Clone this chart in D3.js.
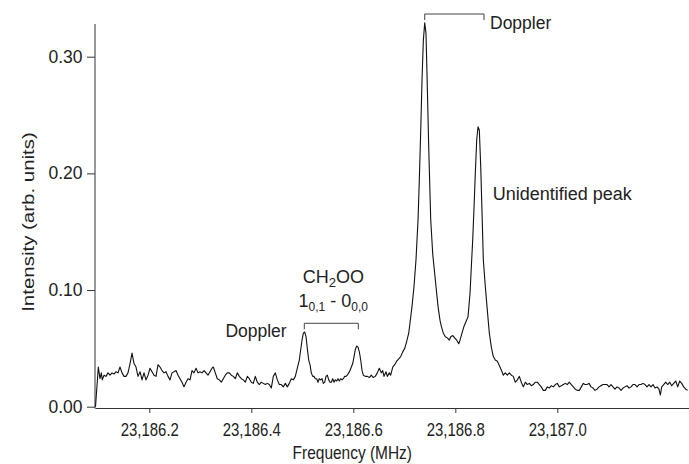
<!DOCTYPE html>
<html>
<head>
<meta charset="utf-8">
<script src="https://cdn.jsdelivr.net/npm/d3@7"></script>
<style>
body { margin: 0; background: #fff; }
svg text { font-family: "Liberation Sans", Arial, Helvetica, sans-serif; fill: #222; }
</style>
</head>
<body>
<div id="chart"></div>
<script>
// spectrum (MHz, arb. units)
var freqMHz = [
	23186.0945,23186.1000,23186.1033,23186.1059,23186.1078,23186.1112,23186.1151,23186.1190,23186.1229,23186.1269,
	23186.1308,23186.1347,23186.1386,23186.1425,23186.1465,23186.1504,23186.1543,23186.1582,23186.1622,23186.1661,
	23186.1700,23186.1739,23186.1778,23186.1818,23186.1857,23186.1896,23186.1935,23186.1975,23186.2014,23186.2053,
	23186.2092,23186.2131,23186.2171,23186.2210,23186.2249,23186.2288,23186.2327,23186.2367,23186.2406,23186.2445,
	23186.2484,23186.2524,23186.2563,23186.2602,23186.2641,23186.2680,23186.2720,23186.2759,23186.2798,23186.2837,
	23186.2876,23186.2916,23186.2955,23186.2994,
	23186.3033,23186.3073,23186.3112,23186.3151,23186.3190,23186.3229,23186.3255,23186.3294,23186.3333,23186.3373,
	23186.3412,23186.3451,23186.3490,23186.3529,23186.3569,23186.3608,23186.3647,23186.3686,23186.3725,23186.3765,
	23186.3804,23186.3843,23186.3882,23186.3922,23186.3961,23186.4000,23186.4039,23186.4078,23186.4118,23186.4157,
	23186.4196,23186.4235,23186.4275,23186.4314,23186.4353,23186.4392,23186.4431,23186.4471,23186.4510,23186.4549,
	23186.4588,23186.4627,23186.4667,23186.4706,23186.4745,23186.4784,23186.4824,23186.4863,23186.4902,23186.4941,
	23186.4969,
	23186.4994,23186.5020,23186.5047,23186.5073,23186.5098,23186.5125,23186.5151,23186.5176,23186.5204,23186.5229,
	23186.5255,23186.5282,23186.5308,23186.5333,23186.5361,23186.5386,23186.5412,23186.5439,23186.5465,23186.5490,
	23186.5518,23186.5543,23186.5569,23186.5596,23186.5622,23186.5647,23186.5675,23186.5700,23186.5725,23186.5753,
	23186.5778,23186.5804,23186.5831,23186.5857,23186.5882,23186.5910,23186.5935,23186.5961,23186.5988,23186.6014,
	23186.6039,23186.6067,23186.6092,23186.6118,23186.6145,23186.6171,23186.6196,23186.6235,23186.6275,23186.6314,
	23186.6353,23186.6392,23186.6431,23186.6471,23186.6510,23186.6549,23186.6576,23186.6602,23186.6641,23186.6667,
	23186.6706,23186.6733,23186.6773,23186.6812,23186.6851,23186.6890,23186.6929,23186.6969,23186.7008,23186.7047,
	23186.7086,
	23186.7112,23186.7151,23186.7190,23186.7229,23186.7269,23186.7294,23186.7322,23186.7347,23186.7373,23186.7400,
	23186.7425,23186.7451,23186.7478,23186.7518,23186.7557,23186.7596,23186.7635,23186.7661,23186.7700,23186.7725,
	23186.7765,23186.7804,23186.7843,23186.7882,23186.7910,23186.7949,23186.7988,23186.8027,23186.8067,23186.8092,
	23186.8131,23186.8171,23186.8210,23186.8249,23186.8288,23186.8314,23186.8341,23186.8367,23186.8392,23186.8420,
	23186.8445,23186.8471,23186.8498,23186.8524,23186.8549,23186.8588,23186.8627,23186.8667,23186.8706,23186.8745,
	23186.8784,23186.8824,
	23186.8876,23186.8916,23186.8941,23186.8980,23186.9020,23186.9059,23186.9098,23186.9137,23186.9176,23186.9216,
	23186.9255,23186.9294,23186.9333,23186.9373,23186.9412,23186.9451,23186.9490,23186.9529,23186.9569,23186.9608,
	23186.9647,23186.9686,23186.9725,23186.9765,23186.9804,23186.9843,23186.9882,23186.9922,23186.9961,23187.0000,
	23187.0039,23187.0078,23187.0118,23187.0157,23187.0196,23187.0235,23187.0275,23187.0314,23187.0353,23187.0392,
	23187.0431,23187.0471,23187.0510,
	23187.0543,23187.0582,23187.0622,23187.0661,23187.0700,23187.0739,23187.0778,23187.0818,23187.0857,23187.0896,
	23187.0935,23187.0975,23187.1014,23187.1053,23187.1092,23187.1131,23187.1171,23187.1210,23187.1249,23187.1288,
	23187.1327,23187.1367,23187.1406,23187.1445,23187.1484,23187.1524,23187.1563,23187.1602,23187.1641,23187.1680,
	23187.1720,23187.1759,23187.1798,23187.1837,23187.1876,23187.1916,23187.1955,23187.1994,23187.2020,23187.2047,
	23187.2086,23187.2125,23187.2165,23187.2204,23187.2243,23187.2282,23187.2322,23187.2361,23187.2400,23187.2439,
	23187.2478,23187.2518,23187.2557
];

var intensity = [
	0.000,0.034,0.024,0.029,0.023,0.027,0.026,0.029,0.027,0.029,
	0.028,0.030,0.029,0.034,0.029,0.026,0.026,0.029,0.037,0.046,
	0.037,0.034,0.026,0.030,0.023,0.029,0.023,0.027,0.033,0.030,
	0.027,0.026,0.036,0.034,0.031,0.029,0.030,0.026,0.023,0.029,
	0.030,0.031,0.027,0.024,0.021,0.017,0.021,0.024,0.023,0.031,
	0.029,0.033,0.029,0.030,
	0.029,0.031,0.029,0.027,0.030,0.033,0.034,0.029,0.024,0.023,
	0.021,0.024,0.027,0.029,0.029,0.027,0.026,0.024,0.029,0.026,
	0.024,0.023,0.021,0.026,0.024,0.021,0.020,0.026,0.021,0.019,
	0.021,0.020,0.019,0.020,0.019,0.016,0.026,0.029,0.023,0.019,
	0.019,0.017,0.020,0.017,0.020,0.024,0.023,0.026,0.033,0.040,
	0.049,
	0.057,0.063,0.064,0.060,0.050,0.040,0.036,0.029,0.026,0.026,
	0.024,0.024,0.021,0.024,0.023,0.024,0.020,0.021,0.026,0.027,
	0.023,0.021,0.021,0.024,0.021,0.023,0.022,0.024,0.022,0.024,
	0.023,0.024,0.026,0.026,0.027,0.029,0.031,0.034,0.037,0.043,
	0.049,0.052,0.051,0.047,0.040,0.031,0.027,0.026,0.026,0.025,
	0.027,0.025,0.026,0.029,0.033,0.029,0.031,0.026,0.030,0.026,
	0.029,0.027,0.034,0.036,0.039,0.041,0.043,0.047,0.050,0.056,
	0.063,
	0.072,0.086,0.103,0.126,0.160,0.194,0.237,0.280,0.314,0.329,
	0.320,0.274,0.223,0.160,0.131,0.114,0.097,0.086,0.074,0.069,
	0.063,0.060,0.059,0.057,0.060,0.061,0.059,0.057,0.054,0.057,
	0.063,0.069,0.073,0.077,0.097,0.120,0.143,0.171,0.200,0.229,
	0.240,0.237,0.206,0.166,0.126,0.103,0.083,0.063,0.051,0.043,
	0.040,0.039,
	0.034,0.030,0.027,0.029,0.027,0.029,0.027,0.026,0.021,0.023,
	0.026,0.021,0.017,0.021,0.019,0.020,0.018,0.019,0.021,0.021,
	0.019,0.017,0.014,0.014,0.017,0.016,0.018,0.017,0.019,0.020,
	0.017,0.018,0.019,0.020,0.019,0.021,0.019,0.017,0.015,0.014,
	0.014,0.017,0.020,
	0.019,0.019,0.020,0.017,0.016,0.014,0.015,0.017,0.018,0.019,
	0.019,0.019,0.017,0.019,0.017,0.015,0.017,0.016,0.014,0.016,
	0.017,0.018,0.016,0.017,0.019,0.019,0.017,0.019,0.019,0.020,
	0.019,0.017,0.019,0.017,0.019,0.016,0.017,0.015,0.010,0.017,
	0.019,0.021,0.019,0.021,0.018,0.020,0.022,0.017,0.022,0.020,
	0.017,0.015,0.014
];

var yTicks = [0, 0.1, 0.2, 0.3];
var xTicks = [23186.2, 23186.4, 23186.6, 23186.8, 23187.0];

// doppler brackets: [from MHz, to MHz, height]
var brackets = [
	[23186.7400, 23186.8563, 0.3366],
	[23186.5039, 23186.6098, 0.0715]
];

var width = 689, height = 464;

var x = d3.scaleLinear().domain([23186.0935, 23187.2582]).range([95, 689]);
var y = d3.scaleLinear().domain([0, 0.3]).range([406.7, 56.7]);

var svg = d3.select("#chart").append("svg").attr("width", width).attr("height", height);

// y axis
var yAxis = d3.axisLeft(y).tickValues(yTicks).tickFormat(d3.format(".2f")).tickSize(8).tickPadding(4.5).tickSizeOuter(0);
var gy = svg.append("g").attr("transform", "translate(95,0)").call(yAxis);
gy.select(".domain").remove();
gy.selectAll(".tick line").attr("stroke", "#333");
gy.selectAll(".tick text").attr("font-size", "17.5px").attr("fill", "#222");
svg.append("line").attr("x1", 95).attr("x2", 95).attr("y1", 24).attr("y2", 408.5)
	.attr("stroke", "#333").attr("stroke-width", 1);

// x axis
var xAxis = d3.axisBottom(x).tickValues(xTicks).tickFormat(d3.format(",.1f")).tickSize(5).tickPadding(10.5).tickSizeOuter(0);
var gx = svg.append("g").attr("transform", "translate(0,408)").call(xAxis);
gx.select(".domain").attr("stroke", "#333");
gx.selectAll(".tick line").attr("stroke", "#333");
gx.selectAll(".tick text").attr("font-size", "18px").attr("fill", "#222").attr("transform", "scale(0.83,1)");

// spectrum
var line = d3.line()
	.x(function(d){ return x(d[0]); })
	.y(function(d){ return y(d[1]); });

svg.append("path")
	.datum(d3.zip(freqMHz, intensity))
	.attr("d", line)
	.attr("fill", "none")
	.attr("stroke", "#111")
	.attr("stroke-width", 1.1)
	.attr("stroke-linejoin", "round");

// brackets
brackets.forEach(function(b){
	var x1 = x(b[0]), x2 = x(b[1]), yy = y(b[2]);
	svg.append("path")
		.attr("d", "M" + x1 + "," + (yy + 6) + "V" + yy + "H" + x2 + "V" + (yy + 6))
		.attr("fill", "none").attr("stroke", "#444").attr("stroke-width", 1);
});

// axis titles
svg.append("text")
	.attr("transform", "translate(352.3,459) scale(0.86,1)")
	.attr("text-anchor", "middle").attr("font-size", "18px")
	.text("Frequency (MHz)");

svg.append("text")
	.attr("transform", "translate(33.5,222) rotate(-90) scale(1.28,1)")
	.attr("text-anchor", "middle").attr("font-size", "16px")
	.text("Intensity (arb. units)");

// annotations
svg.append("text").attr("x", 490).attr("y", 28.5).attr("font-size", "17.5px").text("Doppler");
svg.append("text").attr("x", 492.7).attr("y", 200).attr("font-size", "18px").text("Unidentified peak");
svg.append("text").attr("x", 286.7).attr("y", 337.3).attr("text-anchor", "end").attr("font-size", "17.5px").text("Doppler");

var t1 = svg.append("text").attr("x", 333.3).attr("y", 283.3).attr("text-anchor", "middle").attr("font-size", "18px");
t1.append("tspan").text("CH");
t1.append("tspan").attr("dy", 4).attr("font-size", "13px").text("2");
t1.append("tspan").attr("dy", -4).text("OO");

var t2 = svg.append("text").attr("x", 333.3).attr("y", 306.7).attr("text-anchor", "middle").attr("font-size", "18px");
t2.append("tspan").text("1");
t2.append("tspan").attr("dy", 4).attr("font-size", "12px").text("0,1");
t2.append("tspan").attr("dy", -4).text(" - 0");
t2.append("tspan").attr("dy", 4).attr("font-size", "12px").text("0,0");
</script>
</body>
</html>
